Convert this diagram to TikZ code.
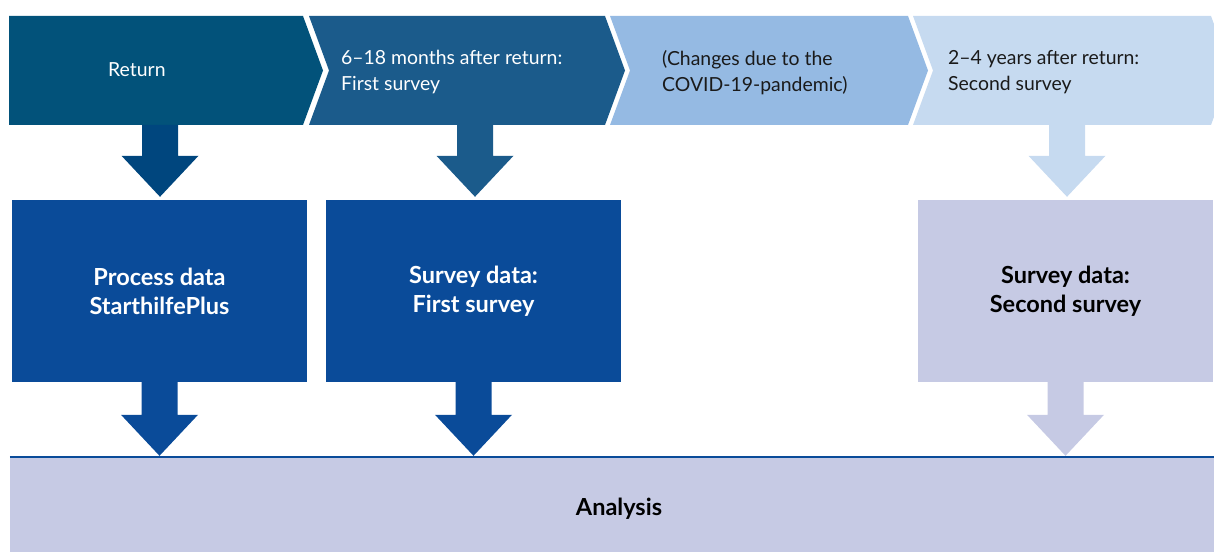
\documentclass[tikz,border=0pt]{standalone}
\usepackage{fontspec}
\setmainfont{Lato}
\usetikzlibrary{calc}

\definecolor{chevA}{HTML}{02527A}
\definecolor{chevB}{HTML}{1B5B8B}
\definecolor{chevC}{HTML}{95BAE3}
\definecolor{chevD}{HTML}{C6DAF0}
\definecolor{arrA}{HTML}{00467E}
\definecolor{boxDark}{HTML}{0A4B99}
\definecolor{boxLight}{HTML}{C6CAE4}
\definecolor{inkDark}{HTML}{1A1A1A}

% block arrow: fill, source point, target anchor, gap above target
\newcommand\blockarrow[4]{%
  \fill[#1] let \p1=(#2), \p2=(#3) in
    (\x1-18pt,\y1) -- (\x1+18pt,\y1) -- (\x1+18pt,\y2+#4pt+41pt)
    -- (\x1+38.5pt,\y2+#4pt+41pt) -- (\x1,\y2+#4pt)
    -- (\x1-38.5pt,\y2+#4pt+41pt) -- (\x1-18pt,\y2+#4pt+41pt) -- cycle;}

\begin{document}
\begin{tikzpicture}[x=1pt,y=1pt,
  phase/.style={anchor=west, align=left, inner sep=0pt,
    font=\fontsize{19.4}{26}\selectfont},
  source/.style={minimum width=295pt, minimum height=182pt, inner sep=0pt,
    align=center, font=\fontsize{23.5}{29}\selectfont\bfseries},
  result/.style={minimum width=1204pt, minimum height=95pt, inner sep=0pt, fill=boxLight}]
\useasboundingbox (0,0) rectangle (1214,552);

% timeline chevrons
\fill[chevA] (9,536) -- (303,536) -- (323,481.5) -- (303,427) -- (9,427) -- cycle;
\fill[chevB] (309,536) -- (605,536) -- (625,481.5) -- (605,427) -- (309,427) -- (329,481.5) -- cycle;
\fill[chevC] (610,536) -- (908,536) -- (928,481.5) -- (908,427) -- (610,427) -- (630,481.5) -- cycle;
\fill[chevD] (913,536) -- (1211,536) -- (1214,527.8) -- (1214,435.2) -- (1211,427) -- (913,427) -- (933,481.5) -- cycle;

\node[phase, anchor=base west, text=white] (t1) at (108,475) {Return};
\node[phase, text=white] (t2) at (341,479.5) {6–18 months after return:\\First survey};
\node[phase, text=inkDark] (t3) at (662,479.5) {(Changes due to the\\COVID-19-pandemic)};
\node[phase, text=inkDark] (t4) at (948,479.5) {2–4 years after return:\\Second survey};

\coordinate (c1) at (160,427);
\coordinate (c2) at (475,427);
\coordinate (c4) at (1067,427);

% data sources
\node[source, fill=boxDark, text=white] (b1) at (159.5,261) {Process data\\StarthilfePlus};
\node[source, fill=boxDark, text=white] (b2) at (473.5,261) {Survey data:\\First survey};
\node[source, fill=boxLight, text=black] (b3) at (1065.5,261) {Survey data:\\Second survey};

% analysis bar
\node[result] (an) at (612,47.5) {};
\draw[boxDark, line width=2.2pt] (an.north west) -- (an.north east);
\node[font=\fontsize{23.5}{28}\selectfont\bfseries, text=black, inner sep=0pt, anchor=base] (anl) at (619,37) {Analysis};

% arrows
\blockarrow{arrA}{c1}{b1.north}{3}
\blockarrow{chevB}{c2}{b2.north}{3}
\blockarrow{chevD}{c4}{b3.north}{3}
\blockarrow{boxDark}{b1.south}{an.north}{1}
\blockarrow{boxDark}{b2.south}{an.north}{1}
\blockarrow{boxLight}{b3.south}{an.north}{1}
\end{tikzpicture}
\end{document}
